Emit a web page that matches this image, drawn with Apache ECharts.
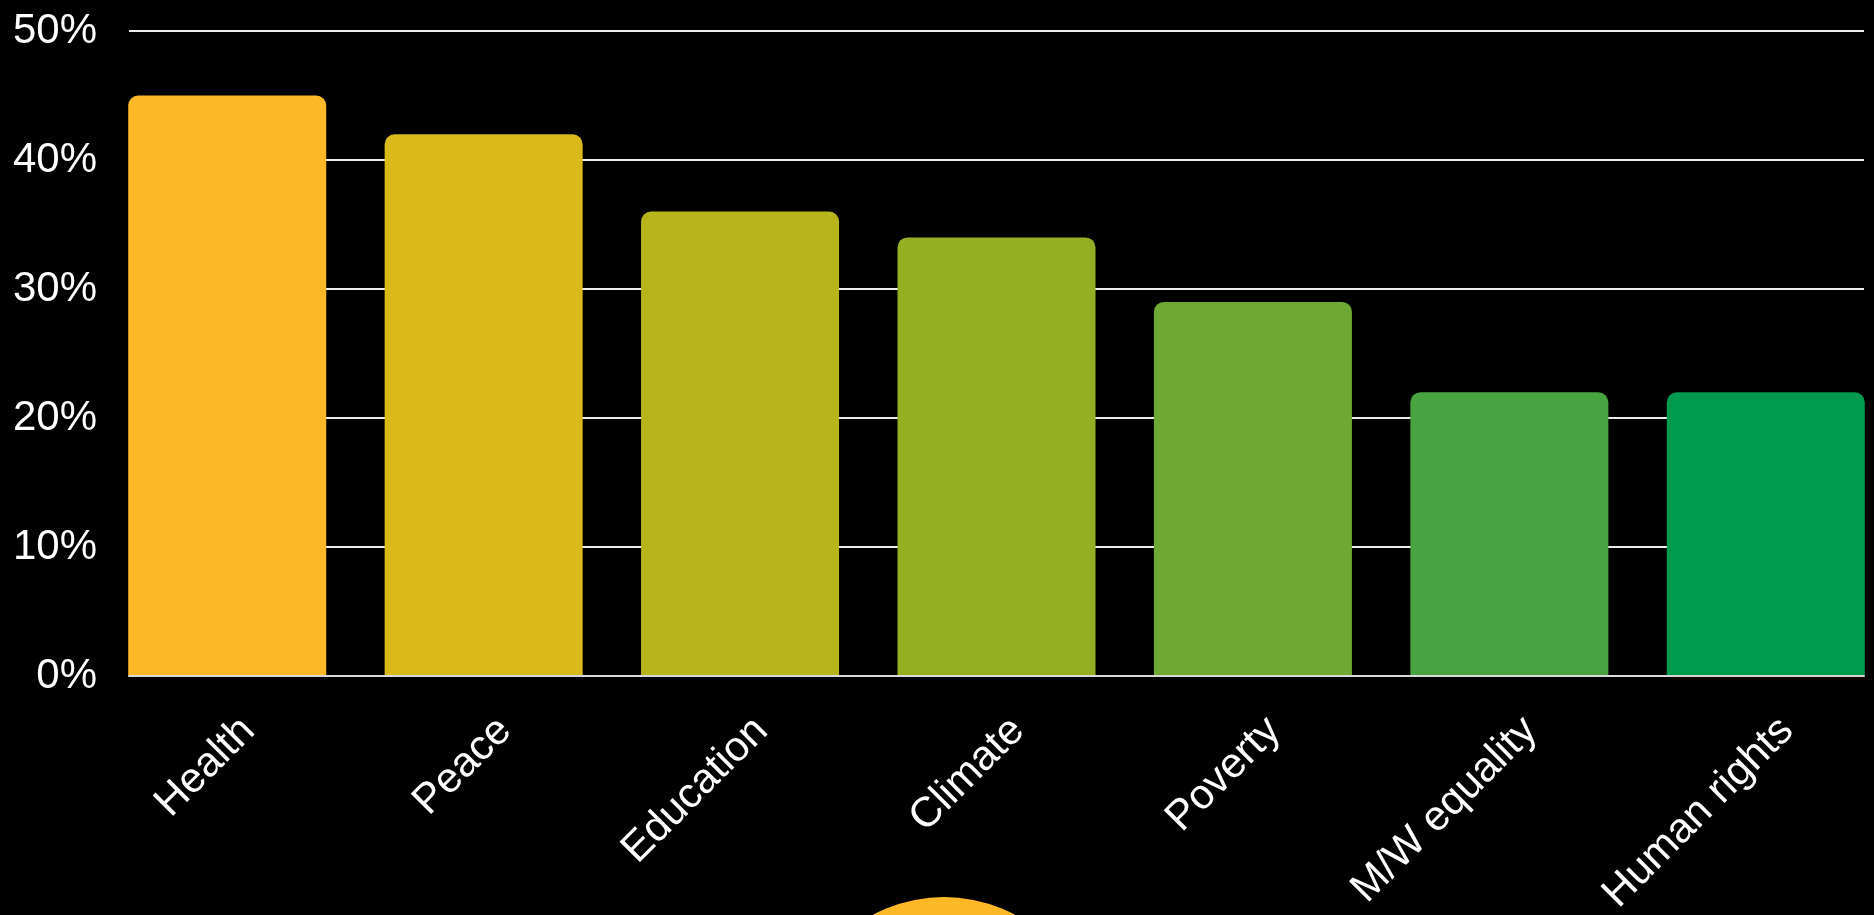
<!DOCTYPE html>
<html>
<head>
<meta charset="utf-8">
<title>Priorities</title>
<script src="https://cdn.jsdelivr.net/npm/echarts@6/dist/echarts.min.js"></script>
<style>
  html, body { margin: 0; padding: 0; background: #000; }
  #chart { width: 1874px; height: 915px; }
</style>
</head>
<body>
<div id="chart"></div>
<script>
// data
const categories = ['Health', 'Peace', 'Education', 'Climate', 'Poverty', 'M/W equality', 'Human rights']
const values = [45, 42, 36, 34, 29, 22, 22]
const barColors = ['#FDB827', '#DAB91A', '#B8B41B', '#95AF23', '#6EAA33', '#48A341', '#009A4E']
const yTicks = { min: 0, max: 50, interval: 10 }

const font = "'Liberation Sans', Arial, sans-serif"
const chart = echarts.init(document.getElementById('chart'))

const option = {
  backgroundColor: '#000',
  animation: false,
  grid: [
    // grid 0: gridlines, y labels, base line
    { left: 129, right: 10, top: 31, bottom: 239, outerBoundsMode: 'none' },
    // grid 1: bars, bands a bit wider than the plot area so the outer bars sit flush with its edges
    { left: 99, width: 1795, top: 31, bottom: 239, outerBoundsMode: 'none' },
  ],
  xAxis: [
    {
      gridIndex: 0,
      type: 'category',
      data: categories,
      z: 5,
      axisLine: { show: true, lineStyle: { color: '#d9d9d9', width: 2 } },
      axisTick: { show: false },
      axisLabel: { show: false },
      splitLine: { show: false },
    },
    {
      gridIndex: 1,
      type: 'category',
      data: categories,
      axisLine: { show: false },
      axisTick: { show: false },
      axisLabel: {
        rotate: 45,
        interval: 0,
        color: '#fff',
        fontSize: 42,
        fontFamily: font,
        verticalAlign: 'top',
        lineHeight: 60,
        margin: 27,
      },
    },
  ],
  yAxis: [
    {
      gridIndex: 0,
      type: 'value',
      min: yTicks.min,
      max: yTicks.max,
      interval: yTicks.interval,
      axisLine: { show: false },
      axisTick: { show: false },
      axisLabel: {
        formatter: '{value}%',
        color: '#fff',
        fontSize: 42,
        fontFamily: font,
        margin: 32,
      },
      splitLine: { lineStyle: { color: '#ececec', width: 2 } },
    },
    {
      gridIndex: 1,
      type: 'value',
      min: yTicks.min,
      max: yTicks.max,
      interval: yTicks.interval,
      show: false,
      splitLine: { show: false },
    },
  ],
  series: [
    {
      type: 'bar',
      xAxisIndex: 1,
      yAxisIndex: 1,
      barWidth: 198,
      data: values.map((v, i) => ({
        value: v,
        itemStyle: { color: barColors[i], borderRadius: [10, 10, 0, 0] },
      })),
    },
  ],
  // decorative circle peeking in at the bottom
  graphic: [
    {
      type: 'circle',
      shape: { cx: 944, cy: 1048, r: 151 },
      style: { fill: '#FDB827' },
      z: 1,
    },
  ],
}

chart.setOption(option)
</script>
</body>
</html>
